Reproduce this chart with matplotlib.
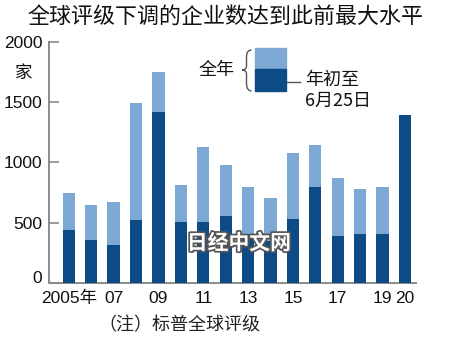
import matplotlib
matplotlib.use("Agg")
import matplotlib.pyplot as plt
import matplotlib.patheffects as pe
import matplotlib.transforms as mtransforms
from matplotlib.patches import Rectangle, PathPatch
from matplotlib.path import Path
from matplotlib import font_manager
import numpy as np

# ---- data ----
years = ["2005", "06", "07", "08", "09", "10", "11", "12", "13", "14",
         "15", "16", "17", "18", "19", "20"]
full_year = [742, 643, 673, 1495, 1747, 811, 1124, 975, 797, 703,
             1080, 1146, 867, 781, 795, np.nan]
year_to_jun25 = [435, 355, 310, 523, 1420, 502, 502, 556, 400, 350,
                 527, 792, 388, 407, 407, 1393]
tick_positions = [0, 2, 4, 6, 8, 10, 12, 14, 15]
tick_labels = ["2005年", "07", "09", "11", "13", "15", "17", "19", "20"]
y_ticks = [0, 500, 1000, 1500, 2000]

title = "全球评级下调的企业数达到此前最大水平"
unit = "家"
legend_full = "全年"
note = "（注）标普全球评级"
watermark = "日经中文网"

LIGHT = "#7ea8d4"
DARK = "#0d4b86"
GRAY = "#8a8a8a"

available = {f.name for f in font_manager.fontManager.ttflist}
num_font = next((f for f in ["Liberation Sans Narrow", "DejaVu Sans Condensed",
                             "Liberation Sans"] if f in available), "DejaVu Sans")
CJK = "Noto Sans CJK SC"
plt.rcParams["font.family"] = [num_font, CJK, "DejaVu Sans"]
NUM_SIZE = 15 if num_font != "Liberation Sans" else 12.5

W, H = 450, 342
fig = plt.figure(figsize=(W / 100, H / 100), dpi=100)
fig.patch.set_facecolor("white")

def fx(px):
    return px / W

def fy(py):
    return 1 - py / H

ax_l, ax_r, ax_t, ax_b = 49.3, 415.7, 42.0, 282.7
ax = fig.add_axes([fx(ax_l), fy(ax_b), fx(ax_r - ax_l), (ax_b - ax_t) / H])

x = np.arange(len(years))
bw = 0.55
ax.bar(x, full_year, width=bw, color=LIGHT, zorder=2)
ax.bar(x, year_to_jun25, width=bw, color=DARK, zorder=3)

ax.set_xlim(-0.87, 15.48)
ax.set_ylim(0, 2000)
ax.set_yticks(y_ticks)
ax.set_yticklabels([str(v) for v in y_ticks])
ax.set_xticks(tick_positions)
ax.set_xticklabels(tick_labels)

for s in ["top", "right"]:
    ax.spines[s].set_visible(False)
for s in ["left", "bottom"]:
    ax.spines[s].set_color(GRAY)
    ax.spines[s].set_linewidth(1.4)

ax.tick_params(axis="y", direction="in", length=7, width=1.2, color=GRAY,
               labelsize=NUM_SIZE, pad=5, labelcolor="#111111")
ax.tick_params(axis="x", length=0, labelsize=NUM_SIZE, pad=6, labelcolor="#111111")
ax.patch.set_alpha(0)

# lift the "0" label a bit, as in the reference
lbl0 = ax.get_yticklabels()[0]
lbl0.set_transform(lbl0.get_transform() +
                   mtransforms.ScaledTranslation(0, 6 / 100, fig.dpi_scale_trans))

# title
fig.text(fx(225), fy(17), title, ha="center", va="center", fontsize=15.8,
         family=[CJK], color="#111111")
# unit
fig.text(fx(24), fy(73), unit, ha="center", va="center", fontsize=12.5,
         family=[CJK], color="#111111")

# legend
fig.patches.append(Rectangle((fx(255), fy(69.3)), fx(31), (69.3 - 48.3) / H,
                             transform=fig.transFigure, color=LIGHT, figure=fig))
fig.patches.append(Rectangle((fx(255), fy(90.7)), fx(31), (90.7 - 69.3) / H,
                             transform=fig.transFigure, color=DARK, figure=fig))
# brace
bx0, bx1 = 242.0, 251.5
pts = [(bx1, 50), (bx0 + 4.5, 50), (bx0 + 4.5, 57), (bx0 + 4.5, 66),
       (bx0 + 4.5, 70), (bx0, 70), (bx0 + 4.5, 70), (bx0 + 4.5, 74),
       (bx0 + 4.5, 83), (bx0 + 4.5, 91), (bx1, 91)]
codes = [Path.MOVETO, Path.CURVE3, Path.CURVE3, Path.LINETO,
         Path.CURVE3, Path.CURVE3, Path.CURVE3, Path.CURVE3,
         Path.LINETO, Path.CURVE3, Path.CURVE3]
brace = Path([(fx(a), fy(b)) for a, b in pts], codes)
fig.patches.append(PathPatch(brace, transform=fig.transFigure, fill=False,
                             edgecolor="#555555", linewidth=1.0, figure=fig))
fig.text(fx(217), fy(70), legend_full, ha="center", va="center", fontsize=13,
         family=[CJK], color="#111111")
fig.lines.append(plt.Line2D([fx(287), fx(300)], [fy(81.5), fy(81.5)],
                            transform=fig.transFigure, color="#555555",
                            linewidth=1.0, figure=fig))
fig.text(fx(305), fy(80), "年初至", ha="left", va="center", fontsize=13,
         family=[CJK], color="#111111")
fig.text(fx(305), fy(101), "6月25日", ha="left", va="center", fontsize=13,
         family=[CJK], color="#111111")

# note
fig.text(fx(98), fy(325), note, ha="left", va="center", fontsize=13,
         family=[CJK], color="#222222")

# watermark
fig.text(fx(239), fy(243), watermark, ha="center", va="center", fontsize=15,
         family=[CJK], weight="bold", color="white", zorder=10,
         path_effects=[pe.withStroke(linewidth=2.5, foreground="#555555")])

fig.savefig("out.png", dpi=100, facecolor="white")
